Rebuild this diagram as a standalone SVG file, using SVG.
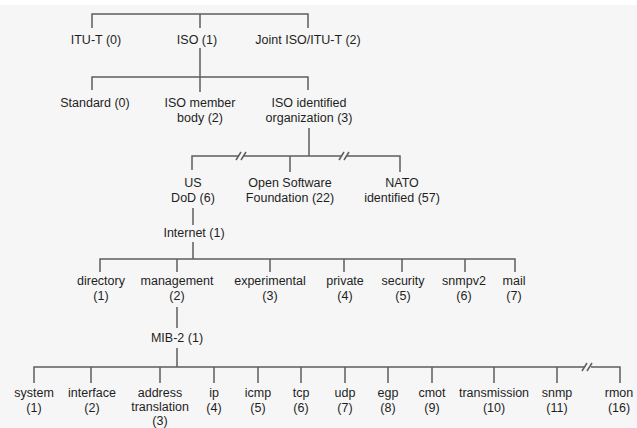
<svg xmlns="http://www.w3.org/2000/svg" width="637" height="428" viewBox="0 0 637 428">
<style>
.bg{fill:#f6f6f6}
.c{stroke:#5e5e5e;stroke-width:1.5;fill:none}
text{font-family:"Liberation Sans",Arial,sans-serif;font-size:12.5px;fill:#1e1e1e;text-anchor:middle}
</style>
<rect width="637" height="428" fill="#ffffff"/>
<rect class="bg" x="0" y="5" width="637" height="423"/>
<g id="connectors">
<path class="c" d="M92,28V14H308V28M200,14V28"/>
<path class="c" d="M200,48V92M92,90V77H308V90"/>
<path class="c" d="M309,128V156M192,170V156H238M244,156H341M347,156H400V172M290,156V172"/>
<path class="c" d="M236,160L241,152M241,160L246,152M339,160L344,152M344,160L349,152"/>
<path class="c" d="M193,208V225"/>
<path class="c" d="M193,242V259M100,272V259H515V272M177,259V272M270,259V272M344,259V272M402,259V272M465,259V272"/>
<path class="c" d="M177,307V328"/>
<path class="c" d="M177,348V367M34,383V367H585M591,367H620V383M91,367V383M160,367V383M214,367V383M258,367V383M301,367V383M345,367V383M388,367V383M432,367V383M494,367V383M557,367V383"/>
<path class="c" d="M582,371L587,363M587,371L592,363"/>
</g>
<g id="itu-t"><text x="96" y="44">ITU-T (0)</text></g>
<g id="iso"><text x="197" y="44">ISO (1)</text></g>
<g id="joint"><text x="308" y="44">Joint ISO/ITU-T (2)</text></g>
<g id="standard"><text x="95" y="107">Standard (0)</text></g>
<g id="member"><text x="200" y="107">ISO member</text><text x="200" y="122">body (2)</text></g>
<g id="identified"><text x="309" y="107">ISO identified</text><text x="309" y="122">organization (3)</text></g>
<g id="usdod"><text x="193" y="187">US</text><text x="193" y="202">DoD (6)</text></g>
<g id="osf"><text x="290" y="187">Open Software</text><text x="290" y="202">Foundation (22)</text></g>
<g id="nato"><text x="402" y="187">NATO</text><text x="402" y="202">identified (57)</text></g>
<g id="internet"><text x="194" y="237">Internet (1)</text></g>
<g id="directory"><text x="101" y="285">directory</text><text x="101" y="300">(1)</text></g>
<g id="management"><text x="177" y="285">management</text><text x="177" y="300">(2)</text></g>
<g id="experimental"><text x="270" y="285">experimental</text><text x="270" y="300">(3)</text></g>
<g id="private"><text x="345" y="285">private</text><text x="345" y="300">(4)</text></g>
<g id="security"><text x="403" y="285">security</text><text x="403" y="300">(5)</text></g>
<g id="snmpv2"><text x="464" y="285">snmpv2</text><text x="464" y="300">(6)</text></g>
<g id="mail"><text x="514" y="285">mail</text><text x="514" y="300">(7)</text></g>
<g id="mib2"><text x="177" y="342">MIB-2 (1)</text></g>
<g id="system"><text x="34" y="397">system</text><text x="34" y="412">(1)</text></g>
<g id="interface"><text x="92" y="397">interface</text><text x="92" y="412">(2)</text></g>
<g id="address"><text x="160" y="397">address</text><text x="160" y="411">translation</text><text x="160" y="425">(3)</text></g>
<g id="ip"><text x="214" y="397">ip</text><text x="214" y="412">(4)</text></g>
<g id="icmp"><text x="258" y="397">icmp</text><text x="258" y="412">(5)</text></g>
<g id="tcp"><text x="301" y="397">tcp</text><text x="301" y="412">(6)</text></g>
<g id="udp"><text x="345" y="397">udp</text><text x="345" y="412">(7)</text></g>
<g id="egp"><text x="388" y="397">egp</text><text x="388" y="412">(8)</text></g>
<g id="cmot"><text x="432" y="397">cmot</text><text x="432" y="412">(9)</text></g>
<g id="transmission"><text x="494" y="397">transmission</text><text x="494" y="412">(10)</text></g>
<g id="snmp"><text x="557" y="397">snmp</text><text x="557" y="412">(11)</text></g>
<g id="rmon"><text x="619" y="397">rmon</text><text x="619" y="412">(16)</text></g>
</svg>
